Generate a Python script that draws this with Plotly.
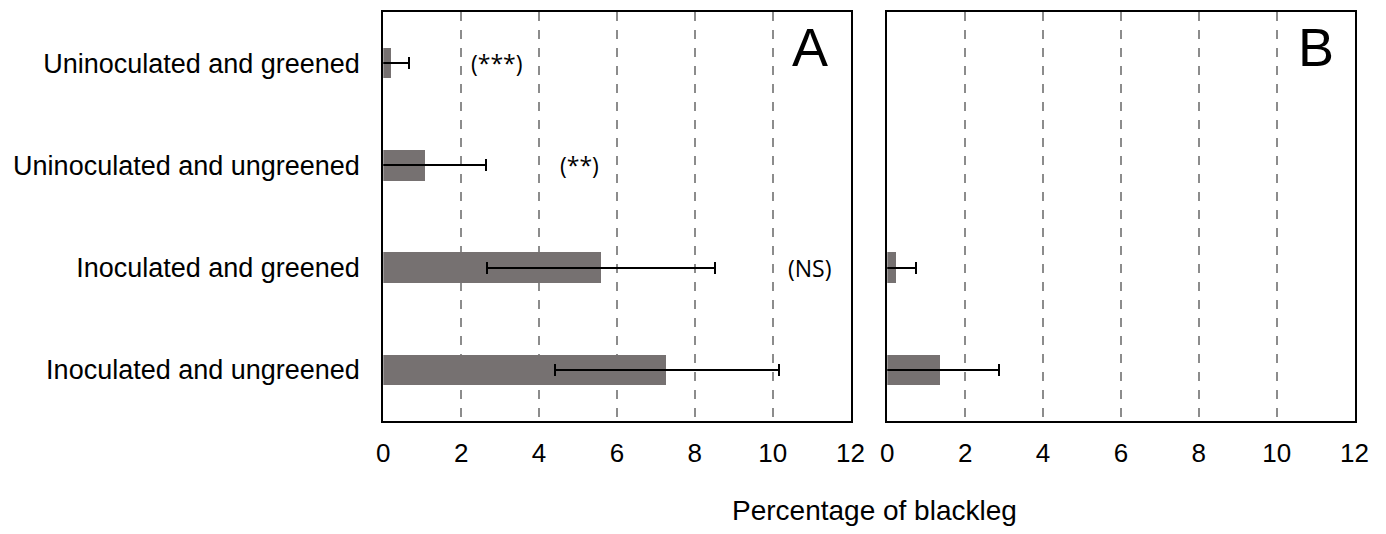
import plotly.graph_objects as go

categories = ["Uninoculated and greened", "Uninoculated and ungreened",
              "Inoculated and greened", "Inoculated and ungreened"]
values_a = [0.2, 1.09, 5.6, 7.28]
errors_a = [0.46, 1.54, 2.93, 2.88]
values_b = [None, None, 0.22, 1.35]
errors_b = [None, None, 0.53, 1.51]
signif_labels = ["(***)", "(**)", "(NS)"]
signif_x = [2.92, 5.03, 10.95]
x_ticks = [0, 2, 4, 6, 8, 10, 12]
panel_labels = ["A", "B"]

BAR = "#767171"
OFF = 8                      # page body margin
W, H = 1386 - 2 * OFF, 534 - 2 * OFF


def px(x):
    return (x - OFF) / W


def py(y):
    return 1 - (y - OFF) / H


fig = go.Figure()
fig.add_trace(go.Bar(
    y=categories, x=values_a, orientation="h", marker=dict(color=BAR, line=dict(width=0)),
    width=0.3, xaxis="x", yaxis="y",
    error_x=dict(type="data", array=errors_a, color="black", thickness=2, width=6),
    showlegend=False))
fig.add_trace(go.Bar(
    y=categories, x=values_b, orientation="h", marker=dict(color=BAR, line=dict(width=0)),
    width=0.3, xaxis="x2", yaxis="y2",
    error_x=dict(type="data", array=errors_b, color="black", thickness=2, width=6),
    showlegend=False))

xa = [px(383.3), px(850.5)]
xb = [px(887.3), px(1354.5)]
yd = [py(421), py(12)]

common_x = dict(range=[0, 12], tickvals=x_ticks, ticktext=[str(v) for v in x_ticks],
                showgrid=True, gridcolor="#8c8c8c", griddash="dash", gridwidth=1.5,
                showline=True, linecolor="black", linewidth=2, mirror=True,
                zeroline=False, ticks="", ticklabelstandoff=8, automargin=False,
                tickfont=dict(family="Liberation Sans", size=26, color="black"))
common_y = dict(type="category", categoryorder="array", categoryarray=categories[::-1],
                showline=True, linecolor="black", linewidth=2, mirror=True, automargin=False,
                showgrid=False, zeroline=False, ticks="")

fig.update_layout(
    template="none",
    width=W, height=H, margin=dict(l=0, r=0, t=0, b=0, autoexpand=False),
    paper_bgcolor="white", plot_bgcolor="white", bargap=0,
    xaxis=dict(domain=xa, anchor="y", **common_x),
    xaxis2=dict(domain=xb, anchor="y2", **common_x),
    yaxis=dict(domain=yd, anchor="x", ticklabelstandoff=16,
               tickfont=dict(family="Liberation Sans", size=27, color="black"), **common_y),
    yaxis2=dict(domain=yd, anchor="x2", showticklabels=False, **common_y),
)

for lab, xv, cat in zip(signif_labels, signif_x, categories[:3]):
    fig.add_annotation(x=xv, y=cat, xref="x", yref="y", text=lab, showarrow=False,
                       font=dict(family="Open Sans", size=23, color="black"))

fig.add_annotation(x=10.95, y=py(47), xref="x", yref="paper", text=panel_labels[0],
                   showarrow=False, yanchor="middle",
                   font=dict(family="Liberation Sans", size=54, color="black"))
fig.add_annotation(x=11.0, y=py(47), xref="x2", yref="paper", text=panel_labels[1],
                   showarrow=False, yanchor="middle",
                   font=dict(family="Liberation Sans", size=54, color="black"))

fig.add_annotation(x=px(874), y=py(528), xref="paper", yref="paper",
                   text="Percentage of blackleg", showarrow=False, yanchor="bottom",
                   font=dict(family="Liberation Sans", size=28, color="black"))

fig.write_html("out.html")
